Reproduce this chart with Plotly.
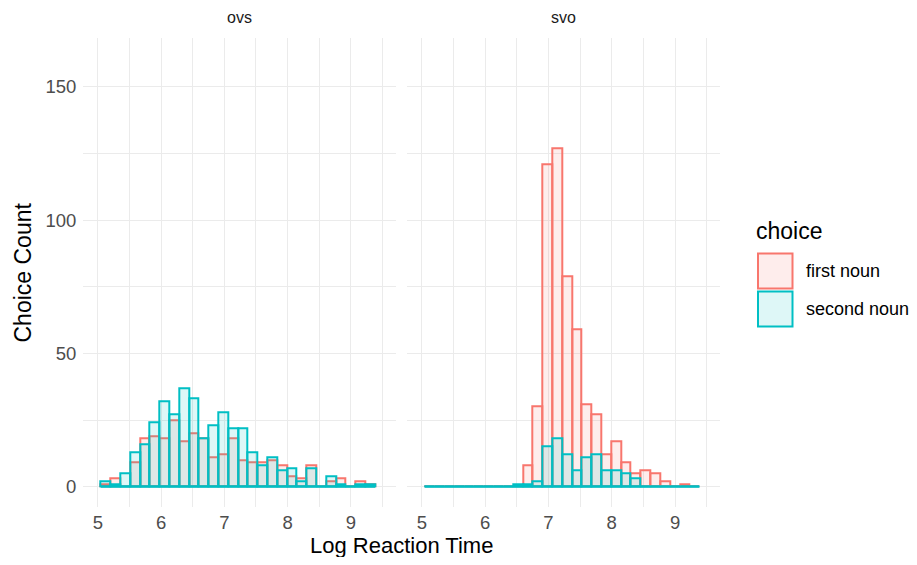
import numpy as np
import plotly.graph_objects as go

# ---- data (counts per histogram bin) ----
bin_first_edge = 5.045
bin_width = 0.155
n_bins = 28
bin_centers = bin_first_edge + bin_width * (np.arange(n_bins) + 0.5)

panels = ["ovs", "svo"]
choices = ["first noun", "second noun"]

ovs_first = [1, 3, 0, 9, 18, 19, 18, 25, 17, 20, 18, 11, 12, 18,
             10, 9, 9, 10, 8, 4, 3, 8, 0, 2, 3, 0, 2, 1]
ovs_second = [2, 1, 5, 13, 16, 24, 32, 27, 37, 33, 18, 23, 28, 22,
              22, 13, 8, 11, 6, 7, 2, 7, 0, 4, 1, 0, 1, 1]
svo_first = [0, 0, 0, 0, 0, 0, 0, 0, 0, 0, 8, 30, 121, 127,
             79, 59, 31, 27, 12, 17, 9, 5, 6, 5, 2, 0, 1, 0]
svo_second = [0, 0, 0, 0, 0, 0, 0, 0, 0, 1, 1, 2, 15, 18,
              12, 6, 11, 12, 6, 6, 5, 3, 0, 0, 0, 0, 0, 0]

x_tick_vals = [5, 6, 7, 8, 9]
y_tick_vals = [0, 50, 100, 150]

counts = {
    ("ovs", "first noun"): ovs_first,
    ("ovs", "second noun"): ovs_second,
    ("svo", "first noun"): svo_first,
    ("svo", "second noun"): svo_second,
}

# ---- styling ----
PAGE_W, PAGE_H = 917, 565
OFF = 8  # default body margin of the html page
W, H = PAGE_W - 2 * OFF, PAGE_H - 2 * OFF
line_col = {"first noun": "#F8766D", "second noun": "#00BFC4"}
fill_col = {"first noun": "rgba(248,118,109,0.13)",
            "second noun": "rgba(0,191,196,0.13)"}
FONT = "Liberation Sans, Arial, Helvetica, sans-serif"
GRID = "#EBEBEB"


def px_x(p):
    return (p - OFF) / W


def px_y(p):
    return 1 - (p - OFF) / H


x_doms = [[px_x(83.3), px_x(395.7)], [px_x(407.3), px_x(720.0)]]
y_dom = [px_y(506.7), px_y(38.3)]
x_range = [4.77, 9.71]
y_range = [-7.5, 168.2]

fig = go.Figure()
axis_ids = [("x", "y"), ("x2", "y2")]
edges = [bin_first_edge, bin_first_edge + bin_width * n_bins]

for (xa, ya), panel in zip(axis_ids, panels):
    for ch in choices:
        fig.add_trace(go.Bar(
            x=bin_centers, y=counts[(panel, ch)], width=bin_width,
            marker=dict(color=fill_col[ch],
                        line=dict(color=line_col[ch], width=2)),
            xaxis=xa, yaxis=ya, showlegend=False, name=ch,
        ))
    # zero-height bins are drawn as a flat outline along the baseline
    fig.add_trace(go.Scatter(
        x=edges, y=[0, 0], mode="lines",
        line=dict(color=line_col["second noun"], width=2),
        xaxis=xa, yaxis=ya, showlegend=False, hoverinfo="skip",
    ))

common_x = dict(
    range=x_range, tickvals=x_tick_vals, showgrid=True, gridcolor=GRID,
    gridwidth=1.4, zeroline=False, showline=False, ticks="",
    tickfont=dict(size=18.5, color="#4D4D4D", family=FONT),
    minor=dict(dtick=0.5, tick0=5, showgrid=True, gridcolor=GRID,
               gridwidth=0.8),
    ticklabelstandoff=3, automargin=False, fixedrange=True,
)
common_y = dict(
    range=y_range, tickvals=y_tick_vals, showgrid=True, gridcolor=GRID,
    gridwidth=1.4, zeroline=False, showline=False, ticks="",
    tickfont=dict(size=18.5, color="#4D4D4D", family=FONT),
    minor=dict(dtick=25, tick0=0, showgrid=True, gridcolor=GRID,
               gridwidth=0.8),
    ticklabelstandoff=6, automargin=False, fixedrange=True,
)

fig.update_layout(
    width=W, height=H,
    margin=dict(l=0, r=0, t=0, b=0),
    paper_bgcolor="white", plot_bgcolor="white",
    barmode="overlay", bargap=0,
    font=dict(family=FONT, color="#000000"),
    xaxis=dict(domain=x_doms[0], anchor="y", **common_x),
    xaxis2=dict(domain=x_doms[1], anchor="y2", **common_x),
    yaxis=dict(domain=y_dom, anchor="x", **common_y),
    yaxis2=dict(domain=y_dom, anchor="x2", matches="y",
                showticklabels=False, **common_y),
)

annotations = []
# facet strip labels
for dom, panel in zip(x_doms, panels):
    annotations.append(dict(
        text=panel, x=(dom[0] + dom[1]) / 2, y=px_y(18), xref="paper",
        yref="paper", showarrow=False, xanchor="center", yanchor="middle",
        font=dict(size=16, color="#1A1A1A", family=FONT)))
# axis titles
annotations.append(dict(
    text="Log Reaction Time", x=(x_doms[0][0] + x_doms[1][1]) / 2,
    y=0, xref="paper", yref="paper", showarrow=False,
    xanchor="center", yanchor="bottom", borderpad=0, yshift=-2,
    font=dict(size=22, color="#000000", family=FONT)))
annotations.append(dict(
    text="Choice Count", x=px_x(22), y=(y_dom[0] + y_dom[1]) / 2,
    xref="paper", yref="paper", showarrow=False, textangle=-90,
    xanchor="center", yanchor="middle",
    font=dict(size=23, color="#000000", family=FONT)))
# legend
annotations.append(dict(
    text="choice", x=px_x(754), y=px_y(231), xref="paper", yref="paper",
    showarrow=False, xanchor="left", yanchor="middle",
    font=dict(size=23, color="#000000", family=FONT)))

shapes = []
key_tops = [253.5, 291.5]
for ch, top in zip(choices, key_tops):
    shapes.append(dict(
        type="rect", xref="paper", yref="paper",
        x0=px_x(758), x1=px_x(792.5), y0=px_y(top + 35), y1=px_y(top),
        fillcolor=fill_col[ch], line=dict(color=line_col[ch], width=2)))
    annotations.append(dict(
        text=ch, x=px_x(804), y=px_y(top + 17.5), xref="paper",
        yref="paper", showarrow=False, xanchor="left", yanchor="middle",
        font=dict(size=18, color="#000000", family=FONT)))

fig.update_layout(annotations=annotations, shapes=shapes)
fig.write_html("out.html")
